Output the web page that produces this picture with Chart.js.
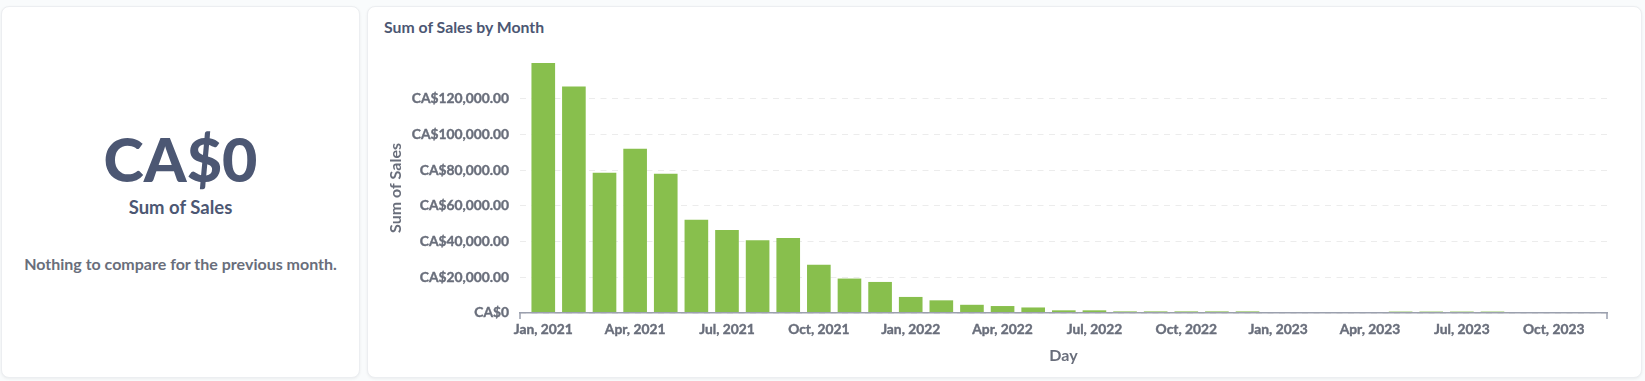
<!DOCTYPE html>
<html>
<head>
<meta charset="utf-8">
<script src="https://cdn.jsdelivr.net/npm/chart.js@4.4.1/dist/chart.umd.min.js"></script>
<style>
  html, body { margin:0; padding:0; width:1645px; height:381px; background:#f9fbfc; overflow:hidden; font-family:Lato, "Noto Sans", sans-serif; }
  .card { position:absolute; background:#fff; border:1px solid #eceef1; border-radius:8px; box-shadow:0 1px 3px rgba(0,0,0,0.06); box-sizing:border-box; }
  #leftCard { left:1px; top:6px; width:359px; height:372px; }
  #rightCard { left:367px; top:6px; width:1275px; height:372px; }
  .t { position:absolute; left:1px; width:359px; text-align:center; line-height:1; white-space:nowrap; }
  #bigValue { top:128px; font-size:61px; font-weight:900; color:#4c5773; }
  #bigLabel { top:198px; font-size:18.5px; font-weight:700; color:#4c5773; }
  #compare { top:256px; font-size:16px; font-weight:700; color:#696e7b; }
  #chartTitle { position:absolute; left:384px; top:19px; font-size:15.8px; font-weight:700; color:#4c5773; line-height:1; white-space:nowrap; }
  #chartWrap { position:absolute; left:367px; top:6px; width:1275px; height:372px; }
</style>
</head>
<body>
<div class="card" id="leftCard"></div>
<div class="card" id="rightCard"></div>
<div class="t" id="bigValue">CA$0</div>
<div class="t" id="bigLabel">Sum of Sales</div>
<div class="t" id="compare">Nothing to compare for the previous month.</div>
<div id="chartTitle">Sum of Sales by Month</div>
<div id="chartWrap"><canvas id="c"></canvas></div>
<script>
// ---- data ----
const months = [
  "Jan, 2021","Feb, 2021","Mar, 2021","Apr, 2021","May, 2021","Jun, 2021",
  "Jul, 2021","Aug, 2021","Sep, 2021","Oct, 2021","Nov, 2021","Dec, 2021",
  "Jan, 2022","Feb, 2022","Mar, 2022","Apr, 2022","May, 2022","Jun, 2022",
  "Jul, 2022","Aug, 2022","Sep, 2022","Oct, 2022","Nov, 2022","Dec, 2022",
  "Jan, 2023","Feb, 2023","Mar, 2023","Apr, 2023","May, 2023","Jun, 2023",
  "Jul, 2023","Aug, 2023"
];
const sales = [
  140100, 126900, 78600, 92000, 78000, 52300,
  46500, 40700, 42000, 27100, 19300, 17400,
  9000, 7100, 4600, 3900, 3100, 1500,
  1500, 900, 900, 900, 900, 900,
  null, null, null, null, 800, 800,
  800, 800
];
const xTickLabels = ["Jan, 2021","Apr, 2021","Jul, 2021","Oct, 2021","Jan, 2022","Apr, 2022",
                     "Jul, 2022","Oct, 2022","Jan, 2023","Apr, 2023","Jul, 2023","Oct, 2023"];
const yTickValues = [0, 20000, 40000, 60000, 80000, 100000, 120000];
const yTickLabels = ["CA$0","CA$20,000.00","CA$40,000.00","CA$60,000.00","CA$80,000.00","CA$100,000.00","CA$120,000.00"];
const xRange = [-0.76, 34.74];

// ---- chart ----
const axisColor = '#9ba0ae';
const textMedium = '#696e7b';
const points = months.map((m, i) => ({ x: i, y: sales[i] }));

const endTicks = {
  id: 'endTicks',
  afterDatasetsDraw(chart) {
    const { ctx, chartArea } = chart;
    ctx.save();
    ctx.strokeStyle = axisColor;
    ctx.lineWidth = 1.5;
    ctx.beginPath();
    [chartArea.left, chartArea.right].forEach(x => {
      ctx.moveTo(x, chartArea.bottom);
      ctx.lineTo(x, chartArea.bottom + 6);
    });
    ctx.stroke();
    ctx.restore();
  }
};

Chart.defaults.font.family = 'Lato';
new Chart(document.getElementById('c'), {
  type: 'bar',
  data: {
    datasets: [{
      label: 'Sum of Sales',
      data: points,
      backgroundColor: '#88bf4d',
      borderWidth: 0,
      categoryPercentage: 1,
      barPercentage: 0.772
    }]
  },
  plugins: [endTicks],
  options: {
    responsive: true,
    maintainAspectRatio: false,
    animation: false,
    layout: { padding: { left: 0, right: 35, top: 57, bottom: 0 } },
    plugins: { legend: { display: false }, tooltip: { enabled: false } },
    scales: {
      x: {
        type: 'linear',
        min: xRange[0],
        max: xRange[1],
        offset: false,
        afterBuildTicks(s) { s.ticks = xTickLabels.map((_, i) => ({ value: i * 3 })); },
        afterFit(s) { s.height = 65; },
        ticks: {
          autoSkip: false, maxRotation: 0, minRotation: 0, padding: 2,
          color: textMedium, font: { family: 'Lato', size: 13.8, weight: '700' },
          textStrokeColor: textMedium, textStrokeWidth: 0.4,
          callback: (v, i) => xTickLabels[i]
        },
        grid: { offset: false, drawOnChartArea: false, drawTicks: true, tickLength: 6, color: 'transparent', tickColor: 'transparent' },
        border: { display: true, color: axisColor, width: 1.5, z: 1 },
        title: { display: true, text: 'Day', color: textMedium, font: { family: 'Lato', size: 16, weight: '700' }, padding: { top: 0, bottom: 12.4 } }
      },
      y: {
        min: 0,
        max: Math.max(...sales.filter(v => v !== null)),
        afterBuildTicks(s) { s.ticks = yTickValues.map(v => ({ value: v })); },
        afterFit(s) { s.width = 153; },
        ticks: {
          padding: 11, color: textMedium, font: { family: 'Lato', size: 13.8, weight: '700' },
          textStrokeColor: textMedium, textStrokeWidth: 0.4,
          callback: (v, i) => yTickLabels[i]
        },
        grid: { drawTicks: false, color: '#ececec', lineWidth: 1 },
        border: { display: false, dash: [6, 5.5] },
        title: { display: true, text: 'Sum of Sales', color: textMedium, font: { family: 'Lato', size: 16, weight: '700' }, padding: { top: 19.4, bottom: 0 } }
      }
    }
  }
});
</script>
</body>
</html>
